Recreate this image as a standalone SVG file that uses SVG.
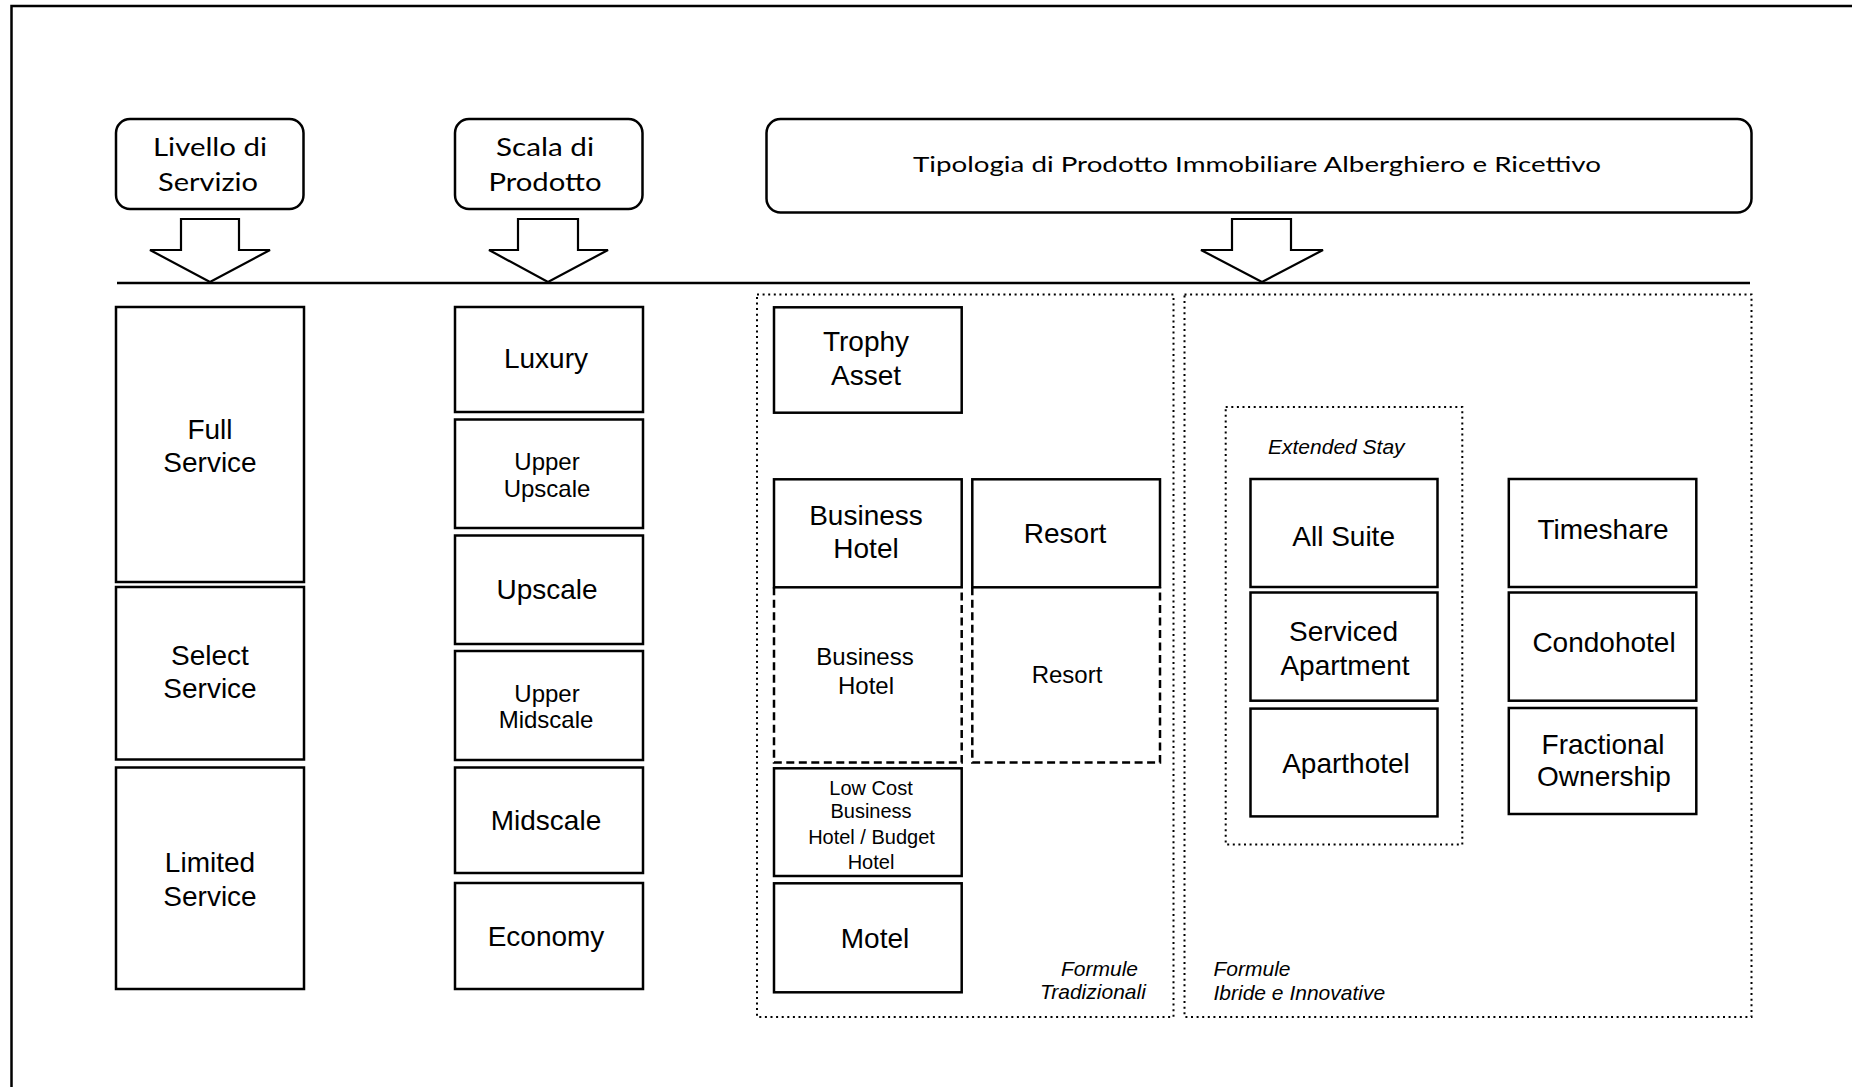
<svg xmlns="http://www.w3.org/2000/svg" width="1852" height="1087" viewBox="0 0 1852 1087">
<style>
.box{fill:#fff;stroke:#000;stroke-width:2.5}
.rbox{fill:#fff;stroke:#000;stroke-width:2.5}
.dash{fill:none;stroke:#000;stroke-width:2.5;stroke-dasharray:8 4.5}
.dot{fill:none;stroke:#000;stroke-width:2;stroke-dasharray:2 3.6}
.arr{fill:#fff;stroke:#000;stroke-width:2.2;stroke-linejoin:miter}
.line{fill:none;stroke:#000;stroke-width:2.5}
.hd{font-family:Lato,"Liberation Sans",sans-serif;fill:#000}
.t{font-family:"Liberation Sans",Arial,sans-serif;fill:#000;text-anchor:middle}
.b{font-size:28px}
.m{font-size:24px}
.s{font-size:20px}
.i{font-family:"Liberation Sans",Arial,sans-serif;font-style:italic;font-size:21px;fill:#000}
</style>
<rect width="1852" height="1087" fill="#fff"/>
<path class="line" d="M11.5,1087 V6 H1852" stroke-width="3"/>

<g id="hdr-livello">
<rect class="rbox" x="116" y="119" width="187.5" height="90" rx="14"/>
<text class="hd" x="210" y="156" font-size="25" text-anchor="middle" textLength="114" lengthAdjust="spacingAndGlyphs">Livello di</text>
<text class="hd" x="208" y="190.5" font-size="25" text-anchor="middle" textLength="100" lengthAdjust="spacingAndGlyphs">Servizio</text>
</g>
<g id="hdr-scala">
<rect class="rbox" x="455" y="119" width="187.5" height="90" rx="14"/>
<text class="hd" x="545" y="156" font-size="25" text-anchor="middle" textLength="98" lengthAdjust="spacingAndGlyphs">Scala di</text>
<text class="hd" x="545" y="190.5" font-size="25" text-anchor="middle" textLength="113" lengthAdjust="spacingAndGlyphs">Prodotto</text>
</g>
<g id="hdr-tipologia">
<rect class="rbox" x="766.5" y="119" width="985" height="93.5" rx="14"/>
<text class="hd" x="1257" y="171.5" font-size="22" text-anchor="middle" textLength="688" lengthAdjust="spacingAndGlyphs">Tipologia di Prodotto Immobiliare Alberghiero e Ricettivo</text>
</g>

<g id="connectors">
<line class="line" x1="117" y1="283" x2="1750" y2="283"/>
<polygon class="arr" points="181,219 239,219 239,250 270,250 210,282 150,250 181,250"/>
<polygon class="arr" points="518,219 578,219 578,250 608,250 548,282 489,250 518,250"/>
<polygon class="arr" points="1232,219 1291,219 1291,250 1323,250 1262,282 1201,250 1232,250"/>
</g>

<g id="group-tradizionali">
<rect class="dot" x="757" y="294.5" width="416.5" height="722.5"/>
<text class="i" x="1061" y="976">Formule</text>
<text class="i" x="1040" y="999">Tradizionali</text>
</g>
<g id="group-ibride">
<rect class="dot" x="1184.5" y="294.5" width="567" height="722.5"/>
<text class="i" x="1213.5" y="976">Formule</text>
<text class="i" x="1213.5" y="1000">Ibride e Innovative</text>
</g>
<g id="group-extended">
<rect class="dot" x="1225.7" y="407" width="236.6" height="437.5"/>
<text class="i" x="1268" y="454.3" font-size="20">Extended  Stay</text>
</g>

<g id="full-service">
<rect class="box" x="116" y="307" width="188" height="275"/>
<text class="t b" x="210" y="439">Full</text>
<text class="t b" x="210" y="471.7">Service</text>
</g>
<g id="select-service">
<rect class="box" x="116" y="587" width="188" height="172.5"/>
<text class="t b" x="210" y="665">Select</text>
<text class="t b" x="210" y="698.3">Service</text>
</g>
<g id="limited-service">
<rect class="box" x="116" y="767.5" width="188" height="221.5"/>
<text class="t b" x="210" y="871.7">Limited</text>
<text class="t b" x="210" y="905.7">Service</text>
</g>

<g id="luxury">
<rect class="box" x="455" y="307" width="188" height="105"/>
<text class="t b" x="546" y="368.3">Luxury</text>
</g>
<g id="upper-upscale">
<rect class="box" x="455" y="419.5" width="188" height="108.5"/>
<text class="t m" x="547" y="470">Upper</text>
<text class="t m" x="547" y="496.7">Upscale</text>
</g>
<g id="upscale">
<rect class="box" x="455" y="535.5" width="188" height="108.5"/>
<text class="t b" x="547" y="599.3">Upscale</text>
</g>
<g id="upper-midscale">
<rect class="box" x="455" y="651" width="188" height="109"/>
<text class="t m" x="547" y="701.6">Upper</text>
<text class="t m" x="546" y="728.3">Midscale</text>
</g>
<g id="midscale">
<rect class="box" x="455" y="767.5" width="188" height="105.5"/>
<text class="t b" x="546" y="830">Midscale</text>
</g>
<g id="economy">
<rect class="box" x="455" y="883" width="188" height="106"/>
<text class="t b" x="546" y="946">Economy</text>
</g>

<g id="trophy-asset">
<rect class="box" x="774" y="307.3" width="187.7" height="105.4"/>
<text class="t b" x="866" y="350.7">Trophy</text>
<text class="t b" x="866" y="385">Asset</text>
</g>
<g id="business-hotel">
<rect class="box" x="774" y="479.3" width="187.7" height="108"/>
<text class="t b" x="866" y="525">Business</text>
<text class="t b" x="866" y="558.3">Hotel</text>
</g>
<g id="business-hotel-2">
<path class="dash" d="M774,587.3 V762.5 H961.7 V587.3"/>
<text class="t m" x="865" y="665">Business</text>
<text class="t m" x="866" y="694.3">Hotel</text>
</g>
<g id="resort">
<rect class="box" x="972.3" y="479.3" width="187.7" height="108"/>
<text class="t b" x="1065" y="543.3">Resort</text>
</g>
<g id="resort-2">
<path class="dash" d="M972.3,587.3 V762.5 H1160 V587.3"/>
<text class="t m" x="1067" y="683.3">Resort</text>
</g>
<g id="low-cost">
<rect class="box" x="774" y="768.3" width="187.7" height="107.7"/>
<text class="t s" x="871" y="795">Low Cost</text>
<text class="t s" x="871" y="818.3">Business</text>
<text class="t s" x="871.5" y="844">Hotel / Budget</text>
<text class="t s" x="871" y="869.3">Hotel</text>
</g>
<g id="motel">
<rect class="box" x="774" y="883.3" width="187.7" height="109"/>
<text class="t b" x="875" y="948.3">Motel</text>
</g>

<g id="all-suite">
<rect class="box" x="1250.5" y="479" width="187" height="108"/>
<text class="t b" x="1343.6" y="546">All Suite</text>
</g>
<g id="serviced-apartment">
<rect class="box" x="1250.5" y="592.5" width="187" height="108.2"/>
<text class="t b" x="1343.5" y="641.4">Serviced</text>
<text class="t b" x="1345" y="674.6">Apartment</text>
</g>
<g id="aparthotel">
<rect class="box" x="1250.5" y="708.6" width="187" height="107.8"/>
<text class="t b" x="1346" y="772.9">Aparthotel</text>
</g>
<g id="timeshare">
<rect class="box" x="1508.8" y="479" width="187.5" height="108"/>
<text class="t b" x="1603" y="539">Timeshare</text>
</g>
<g id="condohotel">
<rect class="box" x="1508.8" y="592.5" width="187.5" height="108.2"/>
<text class="t b" x="1604" y="652">Condohotel</text>
</g>
<g id="fractional-ownership">
<rect class="box" x="1508.8" y="708" width="187.5" height="106"/>
<text class="t b" x="1603" y="754.3">Fractional</text>
<text class="t b" x="1604" y="786.4">Ownership</text>
</g>
</svg>
